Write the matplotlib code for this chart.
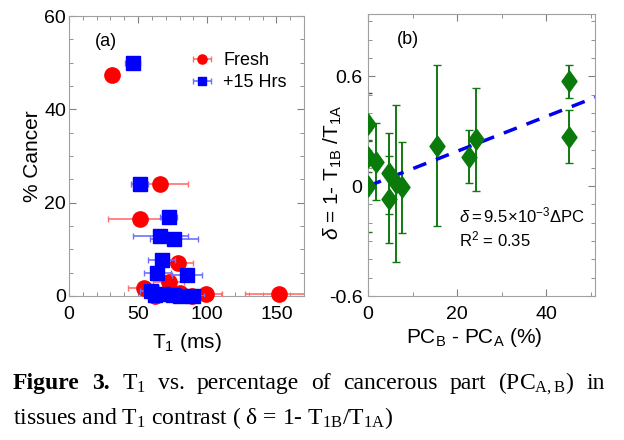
import numpy as np
import matplotlib
matplotlib.use('Agg')
import matplotlib.pyplot as plt
from matplotlib.ticker import MultipleLocator
from matplotlib.path import Path

plt.rcParams['font.family'] = ['Liberation Sans', 'DejaVu Sans']
plt.rcParams['mathtext.fontset'] = 'custom'
plt.rcParams['mathtext.rm'] = 'Liberation Sans'
plt.rcParams['mathtext.it'] = 'Liberation Sans:italic'
plt.rcParams['mathtext.sf'] = 'Liberation Serif'

# panel (a): T1 vs % cancer
fresh_t1 = [31, 66, 51, 79, 72, 54, 80, 62, 89, 99, 152]
fresh_pc = [47.3, 24.1, 16.5, 7.1, 2.9, 1.7, 0.7, 0.0, 0.0, 0.5, 0.4]
fresh_err = [2, 20, 23, 10.5, 11, 11, 8, 8, 8, 12, 25]

hrs_t1 = [46, 51, 72, 66, 76, 67, 64, 85.5, 59, 62, 68, 75, 80, 90]
hrs_pc = [50, 23.9, 16.9, 12.8, 12.2, 7.8, 5.0, 4.6, 1.0, 0.3, 0.4, 0.3, 0.0, 0.0]
hrs_err = [5.7, 6, 6.3, 20, 17.6, 9.7, 10, 11, 8, 8, 8, 8, 8, 8]

# panel (b): contrast vs PC difference
dpc = [0, 0, 0, 1.8, 4.8, 4.8, 6.3, 7.6, 15.5, 22.7, 24.3, 45.2, 45.2]
delta = [0.342, 0.16, 0.0, 0.133, 0.069, -0.073, 0.015, -0.007, 0.22, 0.16, 0.256, 0.573, 0.269]
delta_err = [0.167, 0.085, 0.25, 0.21, 0.22, 0.24, 0.43, 0.25, 0.44, 0.145, 0.28, 0.09, 0.145]
slope = 9.5e-3

caption1 = ['Figure', '3.', 'T$_{\\mathsf{1}}$', 'vs.', 'percentage', 'of', 'cancerous',
            'part', '(PC$_{\\mathsf{A,B}}$)', 'in']
caption2 = 'tissues and T$_{\\mathsf{1}}$ contrast ( $\\mathsf{\\delta}$ = 1- T$_{\\mathsf{1B}}$/T$_{\\mathsf{1A}}$)'


def style_axes(ax):
    for s in ax.spines.values():
        s.set_color('#a0a0a0')
    ax.tick_params(which='both', direction='in', top=True, right=True,
                   color='#808080', labelsize=14)
    ax.tick_params(which='major', length=5)
    ax.tick_params(which='minor', length=3)
    ax.tick_params(axis='x', pad=7)


def clip_errors(eb):
    for c in eb[1]:
        c.set_clip_on(True)
    for c in eb[2]:
        c.set_clip_on(True)


fig = plt.figure(figsize=(6.24, 4.40), dpi=100)

ax1 = fig.add_axes([69/624, 144/440, 235/624, 280/440])
eb = ax1.errorbar(fresh_t1, fresh_pc, xerr=fresh_err, fmt='o', color='#ff0000', ms=11,
                  ecolor='#ff7070', elinewidth=1.2, capsize=2.5, label='Fresh', clip_on=False, zorder=3)
clip_errors(eb)
eb = ax1.errorbar(hrs_t1, hrs_pc, xerr=hrs_err, fmt='s', color='#0000ff', ms=9.5,
                  ecolor='#7070ff', elinewidth=1.2, capsize=2.5, label='+15 Hrs', clip_on=False, zorder=4)
clip_errors(eb)
ax1.set_xlim(0, 170)
ax1.set_ylim(0, 60)
ax1.xaxis.set_major_locator(MultipleLocator(50))
ax1.xaxis.set_minor_locator(MultipleLocator(10))
ax1.yaxis.set_major_locator(MultipleLocator(20))
ax1.yaxis.set_minor_locator(MultipleLocator(5))
style_axes(ax1)
ax1.tick_params(axis='y', pad=2)
ax1.set_xlabel('T$_1$ (ms)', fontsize=15)
ax1.xaxis.set_label_coords(0.5, -0.125)
ax1.set_ylabel('% Cancer', fontsize=15, labelpad=2)
ax1.text(0.11, 0.91, '(a)', transform=ax1.transAxes, fontsize=13, va='center')
ax1.legend(loc='upper right', bbox_to_anchor=(0.995, 0.93), frameon=False, fontsize=13,
           handlelength=1.3, handletextpad=0.5, labelspacing=0.3, markerscale=0.6)

diamond = Path([(0, 1), (0.72, 0), (0, -1), (-0.72, 0), (0, 1)],
               [Path.MOVETO, Path.LINETO, Path.LINETO, Path.LINETO, Path.CLOSEPOLY])

ax2 = fig.add_axes([368/624, 144/440, 227/624, 282/440])
ax2.errorbar(dpc, delta, yerr=delta_err, fmt='none', ecolor='#107a10', elinewidth=1.4,
             capsize=3, zorder=2)
fit_x = np.array([0, 51])
ax2.plot(fit_x, slope*fit_x, color='#0000ee', lw=2.5, ls=(0, (4, 3)), zorder=3)
ax2.plot(dpc, delta, ls='none', marker=diamond, ms=15, color='#0a7a0a', zorder=4)
ax2.set_xlim(0, 51)
ax2.set_ylim(-0.6, 0.94)
ax2.xaxis.set_major_locator(MultipleLocator(20))
ax2.xaxis.set_minor_locator(MultipleLocator(10))
ax2.yaxis.set_minor_locator(MultipleLocator(0.1))
ax2.set_yticks([-0.6, 0, 0.6])
ax2.set_yticklabels(['-0.6', '0', '0.6'])
style_axes(ax2)
ax2.tick_params(axis='y', pad=4)
ax2.set_xlabel(r'PC$_{\mathrm{B}}$ - PC$_{\mathrm{A}}$ (%)', fontsize=15)
ax2.xaxis.set_label_coords(0.47, -0.105)
ax2.set_ylabel(r'$\delta$ = 1- T$_{\mathrm{1B}}$ /T$_{\mathrm{1A}}$', fontsize=15)
ax2.yaxis.set_label_coords(-0.105, 0.44)
ax2.text(0.128, 0.91, '(b)', transform=ax2.transAxes, fontsize=13, va='center')
ax2.text(0.40, 0.287, r'$\delta = 9.5\!\times\!10^{-3}\Delta$PC', transform=ax2.transAxes,
         fontsize=12, va='center')
ax2.text(0.40, 0.202, 'R$^2$ = 0.35', transform=ax2.transAxes, fontsize=12, va='center')

# caption, first line justified between x=13 and x=605 px
renderer = fig.canvas.get_renderer()
words = []
for i, w in enumerate(caption1):
    t = fig.text(0, 1 - 389/440, w, family='Liberation Serif', fontsize=17, va='baseline',
                 fontweight='bold' if i < 2 else 'normal')
    words.append(t)
widths = [t.get_window_extent(renderer).width for t in words]
gap = (592 - sum(widths)) / (len(words) - 1)
x = 13
for t, wd in zip(words, widths):
    t.set_x(x/624)
    x += wd + gap
fig.text(13/624, 1 - 424/440, caption2, family='Liberation Serif', fontsize=17, va='baseline')

fig.savefig('out.png', dpi=100)
